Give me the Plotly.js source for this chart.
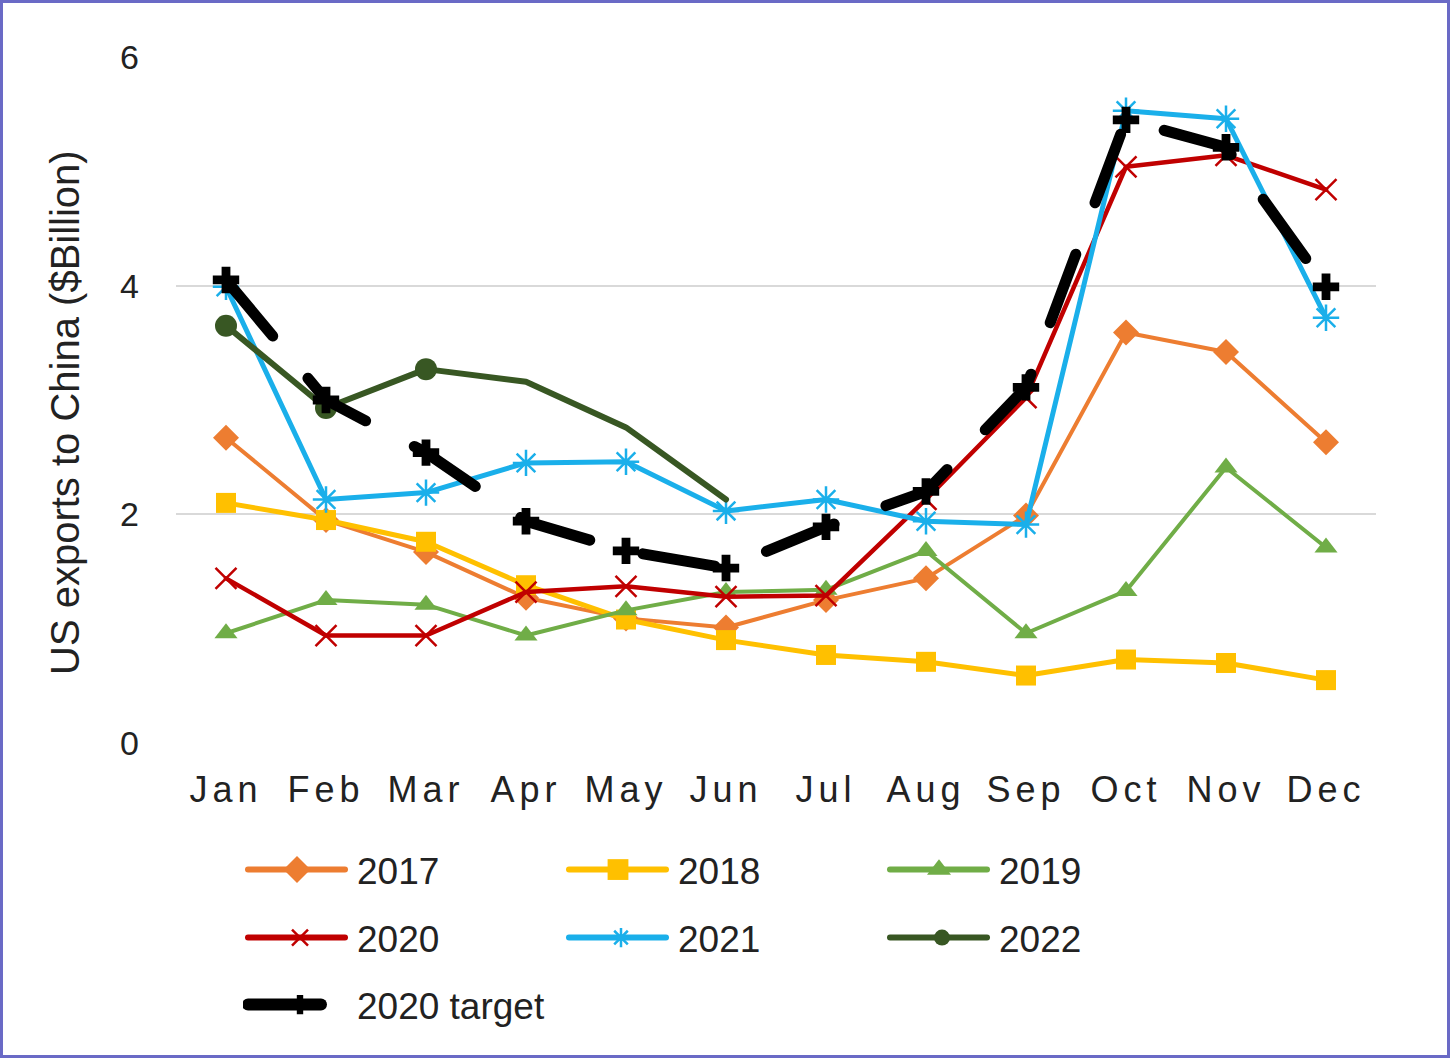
<!DOCTYPE html>
<html><head><meta charset="utf-8">
<script src="https://cdn.plot.ly/plotly-3.0.1.min.js"></script>
<style>
html,body{margin:0;padding:0;background:#fff;}
#wrap{position:relative;width:1450px;height:1058px;}
#chart{width:1450px;height:1058px;}
#frame{position:absolute;left:0;top:0;width:1450px;height:1058px;box-sizing:border-box;border:3px solid #6a6ac6;pointer-events:none;}
.scatterlayer .js-line{stroke-linecap:round;stroke-linejoin:round;}
.legendlines path{d:path("M5,0h97");stroke-linecap:round;stroke-width:6px !important;}
.legendlines path[style*="rgb(0, 0, 0)"]{stroke-width:12px !important;}
.legend .scatterpts{transform:translate(54px,0px) scale(1.3);}
.xtick text{letter-spacing:5px;}
</style></head>
<body>
<div id="wrap"><div id="chart"></div><div id="frame"></div></div>
<script>
const months = ['Jan','Feb','Mar','Apr','May','Jun','Jul','Aug','Sep','Oct','Nov','Dec'];
const months2022 = ['Jan','Feb','Mar','Apr','May','Jun'];
const v2017 = [2.67,1.95,1.67,1.27,1.09,1.01,1.25,1.44,1.99,3.59,3.42,2.63];
const v2018 = [2.10,1.95,1.76,1.38,1.08,0.90,0.77,0.71,0.59,0.73,0.70,0.55];
const v2019 = [0.96,1.25,1.21,0.94,1.16,1.32,1.34,1.68,0.96,1.33,2.41,1.71];
const v2020 = [1.44,0.94,0.94,1.32,1.37,1.28,1.29,2.13,3.02,5.04,5.14,4.84];
const v2021 = [3.99,2.13,2.19,2.45,2.46,2.03,2.13,1.94,1.91,5.53,5.46,3.72];
const v2022 = [3.65,2.93,3.27,3.16,2.76,2.13];
const target2020 = [4.05,3.00,2.54,1.94,1.68,1.53,1.89,2.20,3.11,5.45,5.21,3.99];
const yTicks = [0,2,4,6];
const yTitle = 'US exports to China ($Billion)';

const FONT = 'Liberation Sans, Arial, Helvetica, sans-serif';
const G22 = '#385723';
const marker22Colors = v2022.map((v,i)=> i<3 ? G22 : 'rgba(0,0,0,0)');

const traces = [
 {name:'2017', x:months, y:v2017, mode:'lines+markers', legend:'legend',
  line:{color:'#ED7D31', width:4}, marker:{symbol:'diamond', size:20, color:'#ED7D31'}},
 {name:'2018', x:months, y:v2018, mode:'lines+markers', legend:'legend',
  line:{color:'#FFC000', width:5}, marker:{symbol:'square', size:20, color:'#FFC000'}},
 {name:'2019', x:months, y:v2019, mode:'lines+markers', legend:'legend',
  line:{color:'#70AD47', width:4}, marker:{symbol:'triangle-up', size:20, color:'#70AD47'}},
 {name:'2020', x:months, y:v2020, mode:'lines+markers', legend:'legend2',
  line:{color:'#C00000', width:4.5}, marker:{symbol:'x-thin-open', size:21, color:'#C00000', line:{color:'#C00000', width:2.5}}},
 {name:'2021', x:months, y:v2021, mode:'lines+markers', legend:'legend2',
  line:{color:'#1AAFEA', width:5}, marker:{symbol:'asterisk-open', size:22, color:'#1AAFEA', line:{color:'#1AAFEA', width:2.5}}},
 {name:'2022', x:months2022, y:v2022, mode:'lines+markers', legend:'legend2',
  line:{color:G22, width:6}, marker:{symbol:'circle', size:22, color:marker22Colors, line:{width:0}}},
 {name:'2020 target', x:months, y:target2020, mode:'lines+markers', legend:'legend3',
  line:{color:'#000000', width:11, dash:'73px,55px'}, marker:{symbol:'cross', size:22, color:'#000000'}}
];

const legendBase = {orientation:'h', xref:'container', yref:'container', xanchor:'left', yanchor:'middle',
  x:243/1450, entrywidth:202, entrywidthmode:'pixels', itemwidth:104, bgcolor:'rgba(0,0,0,0)', borderwidth:0,
  font:{family:FONT, size:37, color:'#222'}, traceorder:'normal'};

const layout = {
  width:1450, height:1058,
  paper_bgcolor:'#ffffff', plot_bgcolor:'#ffffff',
  margin:{l:176, r:74, t:57, b:315, autoexpand:false},
  font:{family:FONT, color:'#222'},
  showlegend:true,
  xaxis:{type:'category', range:[-0.5,11.5], showgrid:false, showline:false, zeroline:false, ticks:'',
    tickfont:{family:FONT, size:36, color:'#222'}, ticklabelstandoff:22, automargin:false, fixedrange:true},
  yaxis:{range:[0,6], tickvals:yTicks, ticktext:yTicks.map(String), showgrid:true, gridcolor:'#d9d9d9', gridwidth:2,
    zeroline:false, showline:false, ticks:'', ticklabelstandoff:36, automargin:false, fixedrange:true,
    tickfont:{family:FONT, size:34, color:'#222'}},
  annotations:[{text:yTitle, xref:'paper', yref:'paper', x:(65-176)/1200, y:(743-413)/686,
    xanchor:'center', yanchor:'middle', textangle:-90, showarrow:false,
    font:{family:FONT, size:40, color:'#222'}}],
  legend:Object.assign({}, legendBase, {y:1-870/1058}),
  legend2:Object.assign({}, legendBase, {y:1-938/1058}),
  legend3:Object.assign({}, legendBase, {y:1-1005/1058})
};

Plotly.newPlot('chart', traces, layout, {staticPlot:true, displayModeBar:false});
</script>
</body></html>
